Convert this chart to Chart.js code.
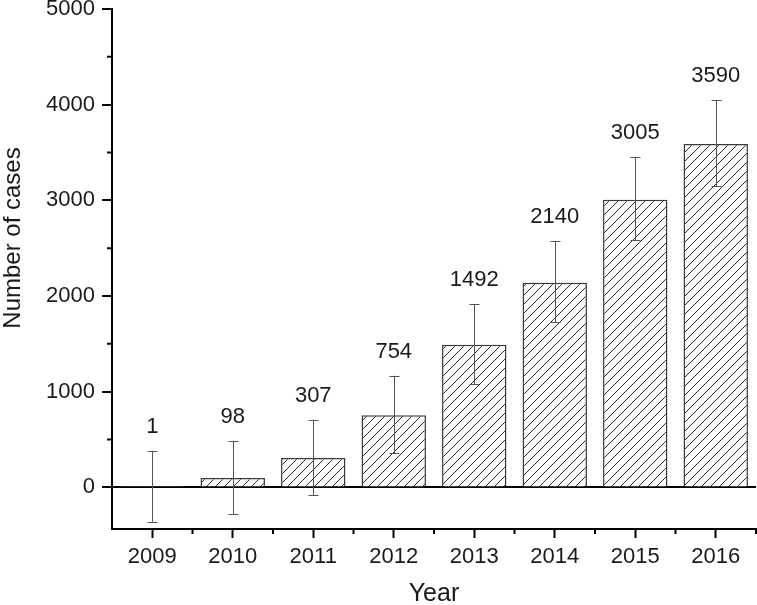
<!DOCTYPE html>
<html><head><meta charset="utf-8">
<script src="https://cdn.jsdelivr.net/npm/chart.js@4.4.1/dist/chart.umd.min.js"></script>
<style>html,body{margin:0;padding:0;background:#fff}#wrap{width:757px;height:605px}</style>
</head><body><div id="wrap"><canvas id="c" width="757" height="605"></canvas></div>
<script>
const years = ['2009','2010','2011','2012','2013','2014','2015','2016'];
const cases = [1, 98, 307, 754, 1492, 2140, 3005, 3590];
const errHigh = [383, 488, 707, 1167, 1914, 2573, 3453, 4046];
const errLow = [-361, -277, -79, 359, 1080, 1726, 2583, 3150];
const yTicks = [0, 1000, 2000, 3000, 4000, 5000];
const yMinorTicks = [500, 1500, 2500, 3500, 4500];
const xTitle = 'Year';
const yTitle = 'Number of cases';

const FONT = '"Liberation Sans", Arial, Helvetica, sans-serif';

function hatch(){
  const s = 9;
  const c = document.createElement('canvas'); c.width = s; c.height = s;
  const g = c.getContext('2d');
  g.fillStyle = '#ffffff'; g.fillRect(0,0,s,s);
  g.strokeStyle = '#2e2e2e'; g.lineWidth = 1;
  g.beginPath();
  g.moveTo(-1, s+1); g.lineTo(s+1, -1);
  g.moveTo(-2, 2); g.lineTo(2, -2);
  g.moveTo(s-2, s+2); g.lineTo(s+2, s-2);
  g.stroke();
  return g.createPattern(c, 'repeat');
}

const extras = {
  id: 'extras',
  afterDatasetsDraw(chart){
    const ctx = chart.ctx, y = chart.scales.y;
    const meta = chart.getDatasetMeta(0);
    ctx.save();
    ctx.strokeStyle = '#555'; ctx.lineWidth = 1;
    meta.data.forEach((bar, i) => {
      const x = Math.round(bar.x) + 0.5;
      const yh = y.getPixelForValue(errHigh[i]);
      const yl = y.getPixelForValue(errLow[i]);
      ctx.beginPath();
      ctx.moveTo(x, yh); ctx.lineTo(x, yl);
      ctx.moveTo(x-5, Math.round(yh)+0.5); ctx.lineTo(x+5, Math.round(yh)+0.5);
      ctx.moveTo(x-5, Math.round(yl)+0.5); ctx.lineTo(x+5, Math.round(yl)+0.5);
      ctx.stroke();
      ctx.fillStyle = '#1a1a1a';
      ctx.font = '22px ' + FONT;
      ctx.textAlign = 'center'; ctx.textBaseline = 'alphabetic';
      ctx.fillText(String(cases[i]), bar.x, yh - 18);
    });
    ctx.restore();
  },
  afterDraw(chart){
    const ctx = chart.ctx, y = chart.scales.y, x = chart.scales.x;
    const a = chart.chartArea;
    ctx.save();
    ctx.strokeStyle = '#000'; ctx.lineWidth = 2;
    ctx.beginPath();
    yMinorTicks.forEach(v => {
      const py = y.getPixelForValue(v);
      ctx.moveTo(a.left - 5, py); ctx.lineTo(a.left, py);
    });
    for (let i = 0; i < years.length; i++){
      const px = x.getPixelForValue(i + 0.5);
      ctx.moveTo(px, a.bottom); ctx.lineTo(px, a.bottom + 5);
    }
    ctx.stroke();
    ctx.fillStyle = '#1a1a1a';
    ctx.textAlign = 'center'; ctx.textBaseline = 'alphabetic';
    ctx.font = '25px ' + FONT;
    ctx.fillText(xTitle, (a.left + a.right)/2, 601);
    ctx.font = '24px ' + FONT;
    ctx.translate(20, 238);
    ctx.rotate(-Math.PI/2);
    ctx.fillText(yTitle, 0, 0);
    ctx.restore();
  }
};

new Chart(document.getElementById('c'), {
  type: 'bar',
  data: {
    labels: years,
    datasets: [{
      data: cases,
      backgroundColor: hatch(),
      borderColor: '#3a3a3a',
      borderWidth: 1.5,
      barPercentage: 0.8,
      categoryPercentage: 1.0
    }]
  },
  options: {
    responsive: false,
    animation: false,
    devicePixelRatio: 1,
    layout: { padding: { top: 9, right: 1, left: 0, bottom: 0 } },
    plugins: { legend: { display: false }, tooltip: { enabled: false } },
    scales: {
      x: {
        type: 'category',
        offset: true,
        afterFit: s => { s.height = 76; s.paddingLeft = 0; s.paddingRight = 0; },
        grid: { offset: false, drawOnChartArea: false, drawTicks: true, tickLength: 9, tickColor: '#000', tickWidth: 2 },
        border: { display: true, color: '#000', width: 2 },
        ticks: { color: '#1a1a1a', font: { family: FONT, size: 22 }, padding: 6, maxRotation: 0 }
      },
      y: {
        min: -435,
        max: 5000,
        afterBuildTicks: s => { s.ticks = yTicks.map(v => ({ value: v })); },
        afterFit: s => { s.width = 112; s.paddingTop = 0; s.paddingBottom = 0; },
        grid: {
          drawOnChartArea: true,
          color: c => (c.tick && c.tick.value === 0) ? '#000' : 'rgba(0,0,0,0)',
          lineWidth: c => (c.tick && c.tick.value === 0) ? 2 : 0,
          drawTicks: true, tickLength: 10, tickColor: '#000', tickWidth: 2
        },
        border: { display: true, color: '#000', width: 2 },
        ticks: { color: '#1a1a1a', font: { family: FONT, size: 22 }, padding: 7, callback: v => String(v) }
      }
    }
  },
  plugins: [extras]
});
</script>
</body></html>
